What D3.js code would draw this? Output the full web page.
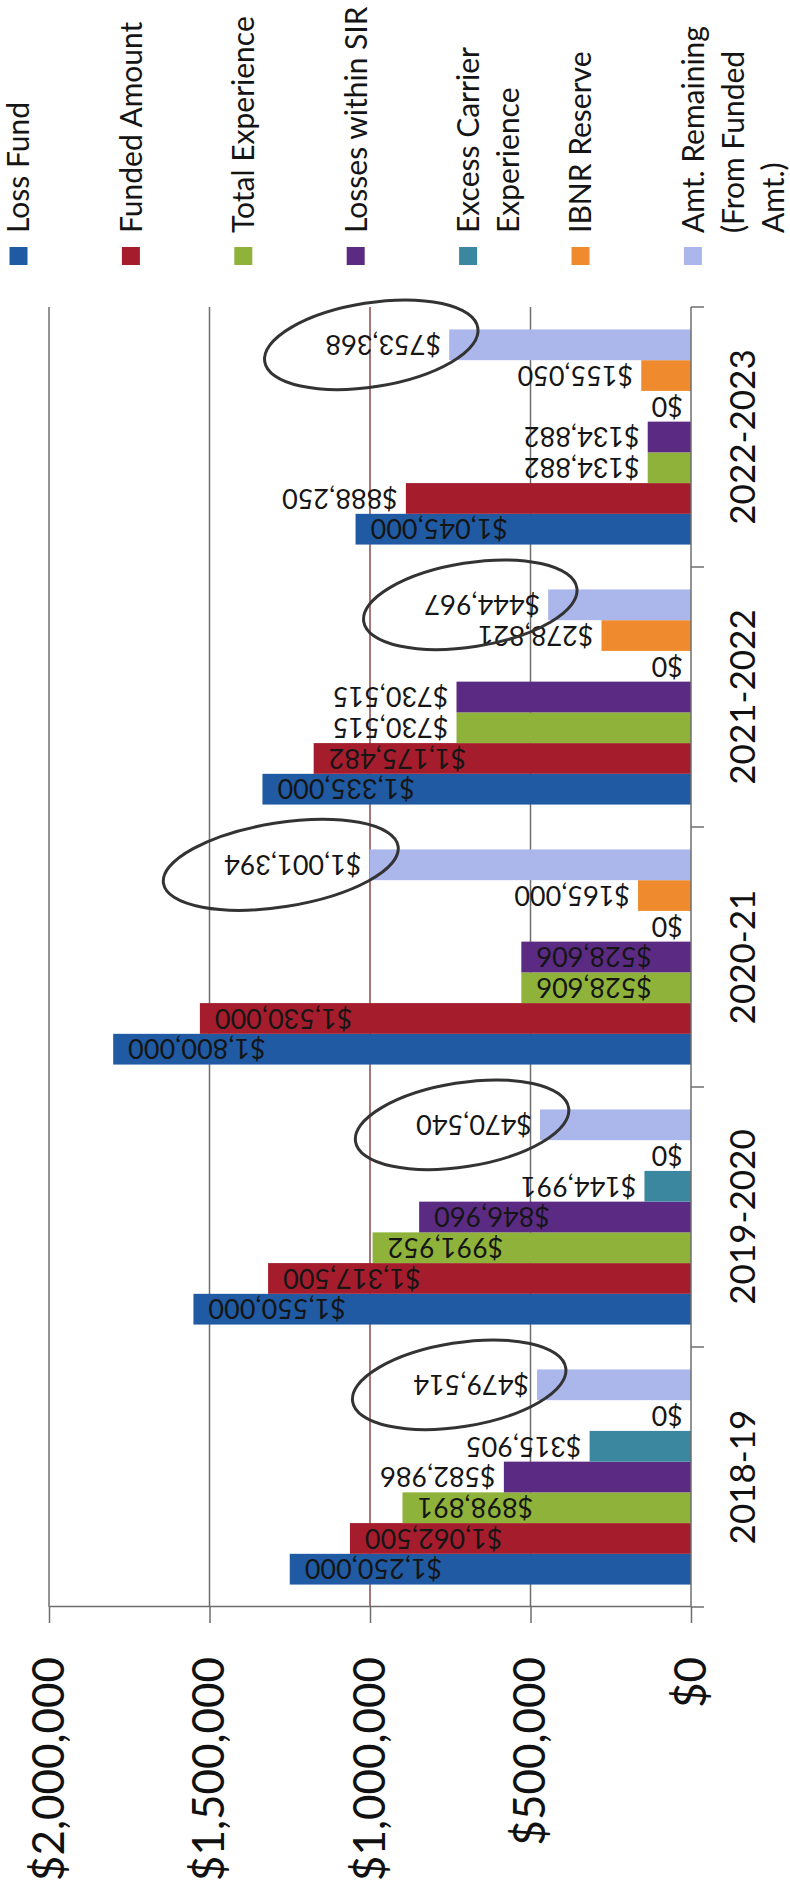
<!DOCTYPE html>
<html><head><meta charset="utf-8">
<script src="https://cdn.jsdelivr.net/npm/d3@7"></script>
<style>
html,body{margin:0;padding:0;background:#fff;}
svg{display:block;font-family:Lato,'Open Sans',sans-serif;}
</style>
</head><body>
<svg id="chart" width="790" height="1892"></svg>
<script>
// ---- data ----
const categories = ["2018-19","2019-2020","2020-21","2021-2022","2022-2023"];
const seriesNames = ["Loss Fund","Funded Amount","Total Experience","Losses within SIR","Excess Carrier Experience","IBNR Reserve","Amt. Remaining (From Funded Amt.)"];
const lossFund        = [1250000,1550000,1800000,1335000,1045000];
const fundedAmount    = [1062500,1317500,1530000,1175482, 888250];
const totalExperience = [ 898891, 991952, 528606, 730515, 134882];
const lossesWithinSIR = [ 582986, 846960, 528606, 730515, 134882];
const excessCarrier   = [ 315905, 144991,      0,      0,      0];
const ibnrReserve     = [      0,      0, 165000, 278821, 155050];
const amtRemaining    = [ 479514, 470540,1001394, 444967, 753368];
const valueTicks = [0,500000,1000000,1500000,2000000];

const seriesValues = [lossFund,fundedAmount,totalExperience,lossesWithinSIR,excessCarrier,ibnrReserve,amtRemaining];
// label placement (1 = inside bar end) per series per category
const labelInside = [[1,1,1,1,1],[1,1,1,1,0],[1,1,1,0,0],[0,1,1,0,0],[0,0,0,0,0],[0,0,0,0,0],[0,0,0,0,0]];
const colors = ["#1f5aa3","#a51d2d","#8fb23a","#5b2b84","#3b87a0","#ef8b2e","#abb6ea"];
const circledSeries = 6;

// ---- layout (chart is drawn landscape, then rotated -90deg) ----
const W = 790, H = 1892;
const svg = d3.select("#chart");
svg.append("rect").attr("width",W).attr("height",H).attr("fill","#fff");
const g = svg.append("g").attr("transform",`translate(0,${H}) rotate(-90)`);

const x = d3.scaleBand().domain(categories).range([285,1585]);
const xi = d3.scaleBand().domain(d3.range(seriesNames.length)).range([0,x.bandwidth()]).paddingOuter(0.73);
const y = d3.scaleLinear().domain([0,2000000]).range([691,49]);
const fmt = v => "$" + d3.format(",")(v);

// gridlines
g.append("g").selectAll("line").data(valueTicks.filter(v=>v>0)).join("line")
  .attr("x1",285).attr("x2",1585)
  .attr("y1",d=>y(d)).attr("y2",d=>y(d))
  .attr("stroke",d=>d===1000000?"#8a4a4a":"#6e6e6e").attr("stroke-width",1.5);

// bars
const rows = [];
categories.forEach((c,ci)=>{
  seriesValues.forEach((arr,si)=>{
    rows.push({c,ci,si,v:arr[ci]});
  });
});
g.append("g").selectAll("rect").data(rows).join("rect")
  .attr("x",d=>x(d.c)+xi(d.si))
  .attr("width",xi.bandwidth())
  .attr("y",d=>y(d.v))
  .attr("height",d=>y(0)-y(d.v))
  .attr("fill",d=>colors[d.si]);

// value axis (left in landscape -> bottom on page)
const yAxis = g.append("g").attr("transform","translate(285,0)")
  .call(d3.axisLeft(y).tickValues(valueTicks).tickFormat(fmt).tickSize(16).tickSizeOuter(0).tickPadding(34));
yAxis.select(".domain").attr("stroke","#6e6e6e").attr("stroke-width",1.5);
yAxis.selectAll(".tick line").attr("stroke","#6e6e6e").attr("stroke-width",1.5);
yAxis.selectAll("text").attr("font-size",44).attr("fill","#111").attr("font-family","Lato");

// category axis
g.append("line").attr("x1",285).attr("x2",1585).attr("y1",y(0)).attr("y2",y(0))
  .attr("stroke","#6e6e6e").attr("stroke-width",1.5);
const bounds = categories.map(c=>x(c)).concat([x(categories[categories.length-1])+x.bandwidth()]);
g.append("g").selectAll("line").data(bounds).join("line")
  .attr("x1",d=>d).attr("x2",d=>d).attr("y1",y(0)).attr("y2",y(0)+13)
  .attr("stroke","#6e6e6e").attr("stroke-width",1.5);
g.append("g").selectAll("text").data(categories).join("text")
  .attr("x",d=>x(d)+x.bandwidth()/2).attr("y",y(0)+64)
  .attr("text-anchor","middle").attr("font-size",35).attr("fill","#111")
  .text(d=>d);

// data labels
const labelG = g.append("g");
const labels = labelG.selectAll("text").data(rows).join("text")
  .attr("transform",d=>{
    const cx = x(d.c)+xi(d.si)+xi.bandwidth()/2;
    const inside = labelInside[d.si][d.ci]===1;
    const ly = inside ? y(d.v)+15 : y(d.v)-8;
    return `translate(${cx},${ly}) rotate(-90)`;
  })
  .attr("text-anchor",d=>labelInside[d.si][d.ci]===1?"end":"start")
  .attr("dy","0.36em")
  .attr("font-size",27).attr("fill","#151515")
  .text(d=>fmt(d.v));

// hand-drawn circles around remaining-amount labels
labels.filter(d=>d.si===circledSeries).each(function(d){
  const w = this.getComputedTextLength();
  const cx = x(d.c)+xi(d.si)+xi.bandwidth()/2;
  const cy = y(d.v)-8-w/2 - 12;
  g.append("ellipse").attr("cx",cx).attr("cy",cy).attr("rx",42).attr("ry",w/2+50)
    .attr("transform",`rotate(-9,${cx},${cy})`)
    .attr("fill","none").attr("stroke","#333").attr("stroke-width",3);
});

// legend
const legend = g.append("g");
const meas = legend.append("text").attr("font-size",30).attr("visibility","hidden");
function wrapLines(t,maxW){
  const words = t.split(" "); const lines=[]; let cur="";
  words.forEach(w=>{
    const test = cur?cur+" "+w:w;
    meas.text(test);
    if(meas.node().getComputedTextLength()>maxW && cur){lines.push(cur);cur=w;} else cur=test;
  });
  if(cur) lines.push(cur);
  return lines;
}
seriesNames.forEach((name,i)=>{
  const cy = 18.5 + 112.4*i;
  legend.append("rect").attr("x",1627).attr("y",cy-9).attr("width",18).attr("height",18).attr("fill",colors[i]);
  const lines = wrapLines(name,236);
  const t = legend.append("text").attr("x",1659).attr("y",cy).attr("font-size",30).attr("fill","#151515");
  lines.forEach((ln,k)=>{
    t.append("tspan").attr("x",1659).attr("y",cy+40*k).attr("dy","0.36em").text(ln);
  });
});
meas.remove();
</script>
</body></html>
